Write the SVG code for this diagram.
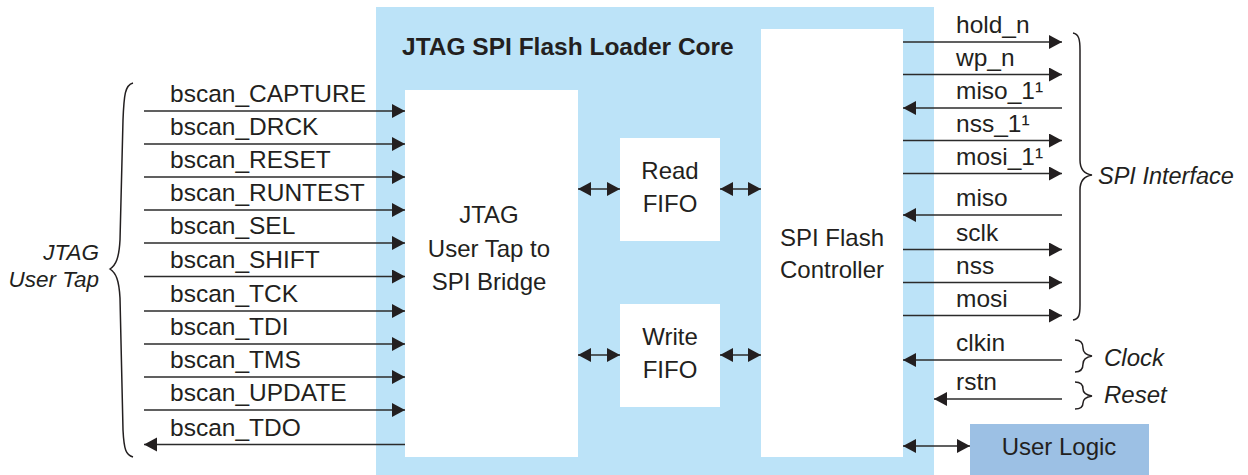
<svg xmlns="http://www.w3.org/2000/svg" width="1248" height="475" viewBox="0 0 1248 475">
  <defs>
    <style>
      .txt { font-family: "Liberation Sans", Arial, sans-serif; fill: #231F20; }
      .sig { font-size: 24.5px; }
      .box { font-size: 24px; text-anchor: middle; }
      .ital { font-style: italic; }
      .title { font-size: 24.5px; font-weight: bold; }
      .wire { stroke: #2b2b2b; stroke-width: 1.3; fill: none; }
      .brace { stroke: #231F20; stroke-width: 1.5; fill: none; }
      .blk { fill: #ffffff; }
    </style>
    <marker id="head" markerUnits="userSpaceOnUse" markerWidth="14" markerHeight="15" refX="13" refY="7" orient="auto-start-reverse">
      <path d="M0,0 L13,7 L0,14 Z" fill="#231F20"/>
    </marker>
  </defs>

  <rect width="1248" height="475" fill="#ffffff"/>

  <!-- core container -->
  <g id="core">
    <rect x="376" y="7" width="558" height="468" fill="#BCE3F8"/>
    <text class="txt title" x="402" y="55">JTAG SPI Flash Loader Core</text>
  </g>

  <g id="bridge">
    <rect class="blk" x="405" y="90" width="173" height="367"/>
    <text class="txt box" x="489" y="223">JTAG</text>
    <text class="txt box" x="489" y="257">User Tap to</text>
    <text class="txt box" x="489" y="290">SPI Bridge</text>
  </g>

  <g id="readFifo">
    <rect class="blk" x="620" y="138" width="100" height="103"/>
    <text class="txt box" x="670" y="179">Read</text>
    <text class="txt box" x="670" y="212">FIFO</text>
  </g>

  <g id="writeFifo">
    <rect class="blk" x="620" y="304" width="100" height="103"/>
    <text class="txt box" x="670" y="345">Write</text>
    <text class="txt box" x="670" y="378">FIFO</text>
  </g>

  <g id="controller">
    <rect class="blk" x="761" y="29" width="142" height="428"/>
    <text class="txt box" x="832" y="246">SPI Flash</text>
    <text class="txt box" x="832" y="278">Controller</text>
  </g>

  <g id="userLogic">
    <rect x="970" y="424" width="179" height="51" fill="#9CC0E4"/>
    <text class="txt box" x="1059" y="455">User Logic</text>
  </g>

  <!-- connectors -->
  <g id="connectors" class="wire">
    <!-- JTAG user tap inputs -->
    <line x1="144" y1="111" x2="405" y2="111" marker-end="url(#head)"/>
    <line x1="144" y1="144" x2="405" y2="144" marker-end="url(#head)"/>
    <line x1="144" y1="177" x2="405" y2="177" marker-end="url(#head)"/>
    <line x1="144" y1="210" x2="405" y2="210" marker-end="url(#head)"/>
    <line x1="144" y1="243" x2="405" y2="243" marker-end="url(#head)"/>
    <line x1="144" y1="276.5" x2="405" y2="276.5" marker-end="url(#head)"/>
    <line x1="144" y1="311" x2="405" y2="311" marker-end="url(#head)"/>
    <line x1="144" y1="344" x2="405" y2="344" marker-end="url(#head)"/>
    <line x1="144" y1="377" x2="405" y2="377" marker-end="url(#head)"/>
    <line x1="144" y1="410" x2="405" y2="410" marker-end="url(#head)"/>
    <line x1="405" y1="444.5" x2="144" y2="444.5" marker-end="url(#head)"/>

    <!-- FIFO links -->
    <line x1="578" y1="189" x2="620" y2="189" marker-start="url(#head)" marker-end="url(#head)"/>
    <line x1="720" y1="189" x2="761" y2="189" marker-start="url(#head)" marker-end="url(#head)"/>
    <line x1="578" y1="355" x2="620" y2="355" marker-start="url(#head)" marker-end="url(#head)"/>
    <line x1="720" y1="355" x2="761" y2="355" marker-start="url(#head)" marker-end="url(#head)"/>

    <!-- SPI interface -->
    <line x1="903" y1="42" x2="1062" y2="42" marker-end="url(#head)"/>
    <line x1="903" y1="74.5" x2="1062" y2="74.5" marker-end="url(#head)"/>
    <line x1="1062" y1="108" x2="903" y2="108" marker-end="url(#head)"/>
    <line x1="903" y1="140.5" x2="1062" y2="140.5" marker-end="url(#head)"/>
    <line x1="903" y1="173.5" x2="1062" y2="173.5" marker-end="url(#head)"/>
    <line x1="1062" y1="215" x2="903" y2="215" marker-end="url(#head)"/>
    <line x1="903" y1="249.5" x2="1062" y2="249.5" marker-end="url(#head)"/>
    <line x1="903" y1="282.5" x2="1062" y2="282.5" marker-end="url(#head)"/>
    <line x1="903" y1="315.5" x2="1062" y2="315.5" marker-end="url(#head)"/>

    <!-- clock, reset -->
    <line x1="1062" y1="360" x2="903" y2="360" marker-end="url(#head)"/>
    <line x1="1062" y1="399" x2="934" y2="399" marker-end="url(#head)"/>

    <!-- user logic link -->
    <line x1="903" y1="446" x2="970" y2="446" marker-start="url(#head)" marker-end="url(#head)"/>
  </g>

  <!-- signal names -->
  <g id="signalLabels" class="txt sig">
    <text x="170" y="102">bscan_CAPTURE</text>
    <text x="170" y="135">bscan_DRCK</text>
    <text x="170" y="168">bscan_RESET</text>
    <text x="170" y="201">bscan_RUNTEST</text>
    <text x="170" y="234">bscan_SEL</text>
    <text x="170" y="267.5">bscan_SHIFT</text>
    <text x="170" y="302">bscan_TCK</text>
    <text x="170" y="335">bscan_TDI</text>
    <text x="170" y="368">bscan_TMS</text>
    <text x="170" y="401">bscan_UPDATE</text>
    <text x="170" y="435.5">bscan_TDO</text>

    <text x="956" y="33">hold_n</text>
    <text x="956" y="65.5">wp_n</text>
    <text x="956" y="99">miso_1¹</text>
    <text x="956" y="131.5">nss_1¹</text>
    <text x="956" y="164.5">mosi_1¹</text>
    <text x="956" y="206">miso</text>
    <text x="956" y="240.5">sclk</text>
    <text x="956" y="273.5">nss</text>
    <text x="956" y="306.5">mosi</text>
    <text x="956" y="351">clkin</text>
    <text x="956" y="390">rstn</text>
  </g>

  <!-- interface groupings -->
  <g id="jtagTap">
    <path class="brace" d="M133,83 C125,85 124,95 123,120 L120,240 C119,258 116,265 110,269 C116,273 119,280 120,298 L123,430 C124,450 126,455 133,457"/>
    <text class="txt ital" font-size="22.5" text-anchor="end" x="99" y="260">JTAG</text>
    <text class="txt ital" font-size="22.5" text-anchor="end" x="99" y="287">User Tap</text>
  </g>

  <g id="spiInterface">
    <path class="brace" d="M1073,33 C1079,34 1080,40 1080,50 L1080,160 C1080,170 1085,174 1092,175 C1085,176 1080,180 1080,190 L1080,305 C1080,315 1079,319 1073,320"/>
    <text class="txt ital" font-size="23.5" x="1098" y="184">SPI Interface</text>
  </g>

  <g id="clock">
    <path class="brace" d="M1075,340 C1081,340 1083,343 1083,348 C1083,353 1086,355 1092,356 C1086,357 1083,359 1083,364 C1083,369 1081,372 1075,372"/>
    <text class="txt ital" font-size="24" x="1104" y="366">Clock</text>
  </g>

  <g id="reset">
    <path class="brace" d="M1075,382 C1081,382 1083,385 1083,389 C1083,393 1086,395 1092,396 C1086,397 1083,399 1083,403 C1083,407 1081,409 1075,409"/>
    <text class="txt ital" font-size="24" x="1104" y="403">Reset</text>
  </g>
</svg>
